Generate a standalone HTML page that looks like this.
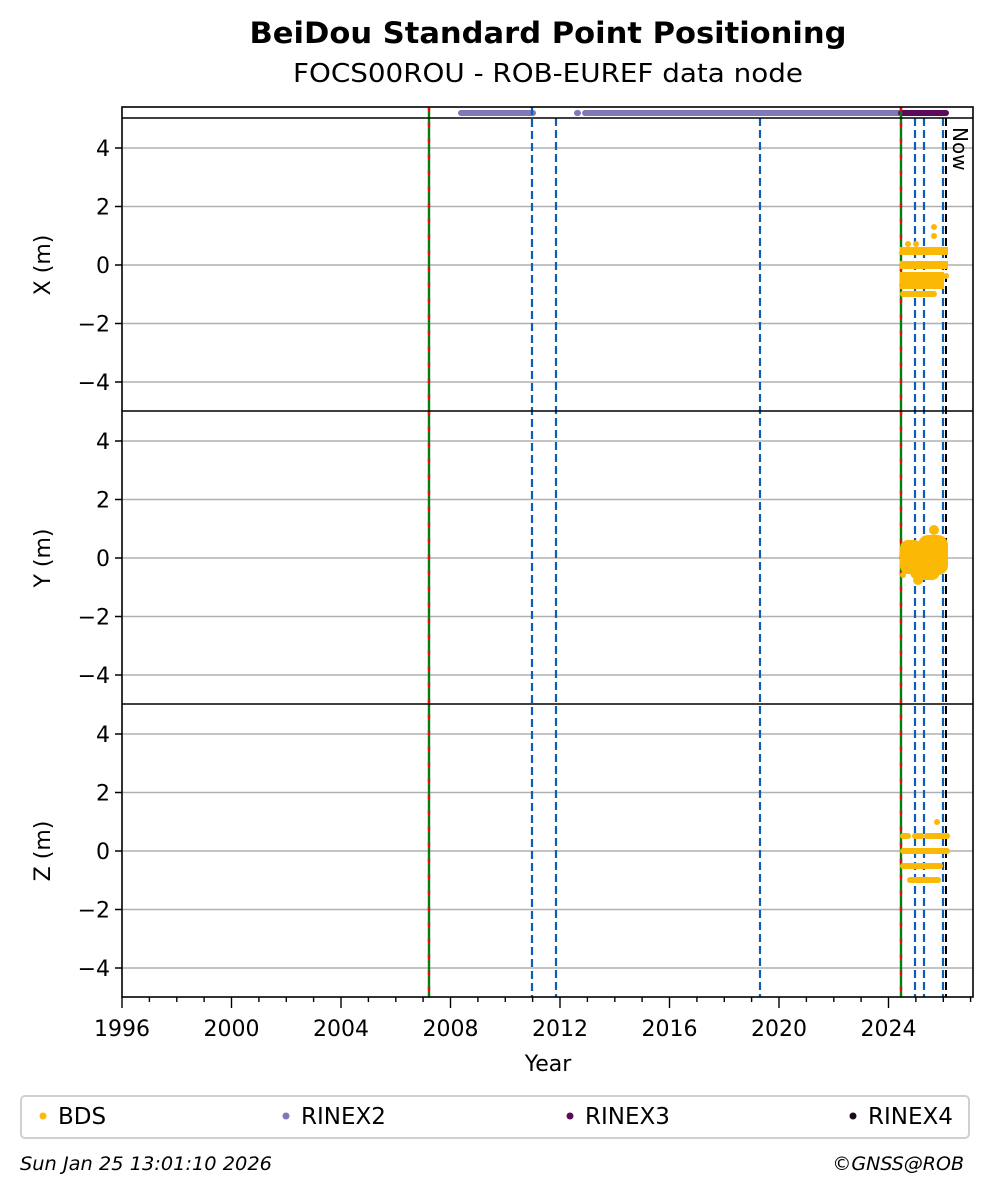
<!DOCTYPE html>
<html><head><meta charset="utf-8"><style>
html,body{margin:0;padding:0;background:#fff;}
svg{display:block;font-family:"DejaVu Sans","Liberation Sans",sans-serif;}
</style></head><body>
<svg width="992" height="1194" viewBox="0 0 992 1194" xmlns="http://www.w3.org/2000/svg">
<rect width="992" height="1194" fill="#fff"/>
<text x="548" y="43" font-size="29" font-weight="bold" text-anchor="middle" textLength="597" lengthAdjust="spacingAndGlyphs">BeiDou Standard Point Positioning</text>
<text x="548" y="82" font-size="26" text-anchor="middle" textLength="510" lengthAdjust="spacingAndGlyphs">FOCS00ROU - ROB-EUREF data node</text>

<!-- grid -->
<g stroke="#b0b0b0" stroke-width="1.6">
<path d="M122 148H973M122 206.5H973M122 265H973M122 323.5H973M122 382H973"/>
<path d="M122 441H973M122 499.5H973M122 558H973M122 616.5H973M122 675H973"/>
<path d="M122 734H973M122 792.5H973M122 851H973M122 909.5H973M122 968H973"/>
</g>

<!-- rinex strip -->
<g stroke-linecap="round" stroke-width="6">
<line x1="461" y1="113" x2="533" y2="113" stroke="#8079b8"/>
<line x1="577" y1="113" x2="578" y2="113" stroke="#8079b8"/>
<line x1="585" y1="113" x2="900" y2="113" stroke="#8079b8"/>
<line x1="901" y1="113" x2="946" y2="113" stroke="#5c0a5a"/>
</g>

<!-- vertical lines -->
<g stroke-width="2.4">
<line x1="429" y1="107" x2="429" y2="997" stroke="#0a7a0a"/>
<line x1="429" y1="107" x2="429" y2="997" stroke="#e01010" stroke-dasharray="4,12"/>
<line x1="901" y1="107" x2="901" y2="997" stroke="#0a7a0a"/>
<line x1="901" y1="107" x2="901" y2="997" stroke="#e01010" stroke-dasharray="4,12"/>
</g>
<g stroke="#0d5eb5" stroke-width="2.2" stroke-dasharray="8,4">
<line x1="532" y1="107" x2="532" y2="997"/>
<line x1="556" y1="118" x2="556" y2="997"/>
<line x1="760" y1="118" x2="760" y2="997"/>
<line x1="915" y1="118" x2="915" y2="997"/>
<line x1="924" y1="118" x2="924" y2="997"/>
<line x1="943" y1="118" x2="943" y2="997"/>
</g>
<line x1="946" y1="118" x2="946" y2="997" stroke="#000" stroke-width="2" stroke-dasharray="8,4"/>
<text transform="translate(953,127) rotate(90)" font-size="20">Now</text>

<!-- BDS X -->
<g fill="#fbb804" stroke="#fbb804" stroke-linecap="round" stroke-width="6">
<rect x="900" y="247" width="48" height="8" stroke="none"/>
<rect x="900" y="261" width="48" height="8" stroke="none"/>
<rect x="900" y="272" width="44" height="17" stroke="none"/>
<line x1="903" y1="294" x2="934" y2="294"/>
<circle cx="934" cy="227" r="3" stroke="none"/>
<circle cx="934" cy="236" r="3" stroke="none"/>
<circle cx="908" cy="244" r="3" stroke="none"/>
<circle cx="916" cy="244" r="3" stroke="none"/>
<circle cx="946" cy="276" r="3" stroke="none"/>
<!-- Y -->
<rect x="900" y="540" width="22" height="34" rx="8" stroke="none"/>
<rect x="918" y="535" width="30" height="40" rx="10" stroke="none"/>
<rect x="910" y="550" width="30" height="30" rx="8" stroke="none"/>
<circle cx="934" cy="530" r="5" stroke="none"/>
<circle cx="918" cy="580" r="5" stroke="none"/>
<circle cx="903" cy="575" r="3" stroke="none"/>
<!-- Z -->
<line x1="903" y1="836" x2="908" y2="836"/>
<line x1="915" y1="836" x2="921" y2="836"/>
<line x1="927" y1="836" x2="947" y2="836"/>
<line x1="903" y1="851" x2="947" y2="851"/>
<line x1="903" y1="866" x2="940" y2="866"/>
<line x1="910" y1="880" x2="938" y2="880"/>
<circle cx="937" cy="822" r="3" stroke="none"/>
</g>

<!-- panel frames -->
<g fill="none" stroke="#000" stroke-width="1.6">
<rect x="122" y="107" width="851" height="890"/>
<line x1="122" y1="118" x2="973" y2="118"/>
<line x1="122" y1="411" x2="973" y2="411"/>
<line x1="122" y1="704" x2="973" y2="704"/>
</g>

<!-- ticks -->
<g stroke="#000" stroke-width="1.4">
<path d="M115 148H122M115 206.5H122M115 265H122M115 323.5H122M115 382H122M115 441H122M115 499.5H122M115 558H122M115 616.5H122M115 675H122M115 734H122M115 792.5H122M115 851H122M115 909.5H122M115 968H122"/>
<path d="M122 997V1008M231.5 997V1008M341 997V1008M450.5 997V1008M560 997V1008M669.5 997V1008M779 997V1008M888.5 997V1008"/>
<path d="M149.4 997V1002M176.8 997V1002M204.1 997V1002M258.9 997V1002M286.3 997V1002M313.6 997V1002M368.4 997V1002M395.8 997V1002M423.1 997V1002M477.9 997V1002M505.3 997V1002M532.6 997V1002M587.4 997V1002M614.8 997V1002M642.1 997V1002M696.9 997V1002M724.3 997V1002M751.6 997V1002M806.4 997V1002M833.8 997V1002M861.1 997V1002M915.9 997V1002M943.3 997V1002M970.6 997V1002"/>
</g>
<g font-size="22" text-anchor="end">
<text x="110" y="156">4</text><text x="110" y="214.5">2</text><text x="110" y="273">0</text><text x="110" y="331.5">−2</text><text x="110" y="390">−4</text>
<text x="110" y="449">4</text><text x="110" y="507.5">2</text><text x="110" y="566">0</text><text x="110" y="624.5">−2</text><text x="110" y="683">−4</text>
<text x="110" y="742">4</text><text x="110" y="800.5">2</text><text x="110" y="859">0</text><text x="110" y="917.5">−2</text><text x="110" y="976">−4</text>
</g>
<g font-size="22" text-anchor="middle">
<text x="122" y="1036">1996</text><text x="231.5" y="1036">2000</text><text x="341" y="1036">2004</text><text x="450.5" y="1036">2008</text><text x="560" y="1036">2012</text><text x="669.5" y="1036">2016</text><text x="779" y="1036">2020</text><text x="888.5" y="1036">2024</text>
<text x="548" y="1071">Year</text>
<text transform="translate(50,265) rotate(-90)">X (m)</text>
<text transform="translate(50,558) rotate(-90)">Y (m)</text>
<text transform="translate(50,851) rotate(-90)">Z (m)</text>
</g>

<!-- legend -->
<rect x="21" y="1096" width="948" height="42" rx="4" fill="#fff" stroke="#d0d0d0" stroke-width="2"/>
<g font-size="23">
<circle cx="43" cy="1116" r="3.5" fill="#fbb804"/><text x="58" y="1124">BDS</text>
<circle cx="286" cy="1116" r="3.5" fill="#8079b8"/><text x="301" y="1124">RINEX2</text>
<circle cx="570" cy="1116" r="3.5" fill="#5c0a5a"/><text x="585" y="1124">RINEX3</text>
<circle cx="853" cy="1116" r="3.5" fill="#1a0a1a"/><text x="868" y="1124">RINEX4</text>
</g>
<text x="20" y="1170" font-size="19" font-style="italic" textLength="252" lengthAdjust="spacingAndGlyphs">Sun Jan 25 13:01:10 2026</text>
<text x="964" y="1170" font-size="19" font-style="italic" text-anchor="end">©GNSS@ROB</text>
</svg>
</body></html>
